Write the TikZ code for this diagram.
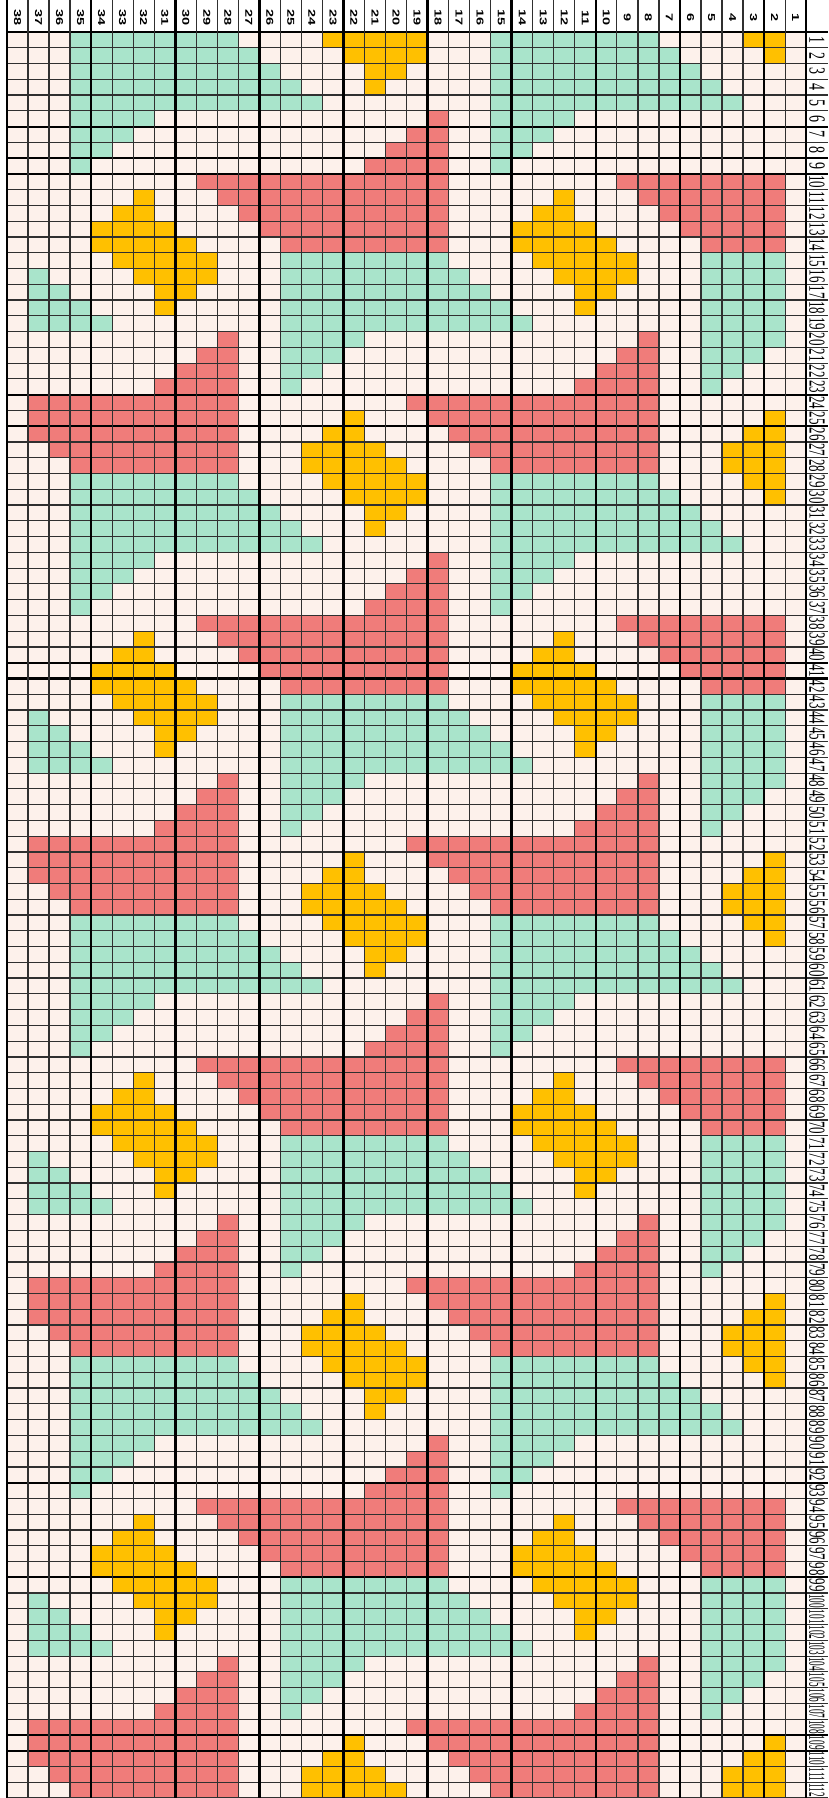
\documentclass[tikz,border=0pt]{standalone}
\usepackage{fontspec}
\usepackage{graphicx}
\setmainfont{Liberation Serif}
\newfontfamily\hdrfont{Liberation Sans}
\definecolor{cl}{HTML}{FDF1EB}
\definecolor{cG}{HTML}{A9E4CB}
\definecolor{cR}{HTML}{F07C7A}
\definecolor{cY}{HTML}{FFC000}
\definecolor{gridc}{HTML}{303030}
\newcount\pcnt
\def\pcellx#1{\if#1o\else
  \foreach \k in {0,1,2,3}{%
    \pgfmathsetmacro\yy{32+(\prownum-1+28*\k)*15.768}%
    \fill[c#1] ({7+(\the\pcnt+1)*21.03},\yy) rectangle ++(21.03,15.768);%
    \ifnum\pcnt<16 \fill[c#1] ({7+(\the\pcnt+21)*21.03},\yy) rectangle ++(21.03,15.768);\fi
  }\fi}
\def\prowscan#1{\ifx#1\relax\else\pcellx{#1}\advance\pcnt by 1 \expandafter\prowscan\fi}
\def\prow#1#2{\def\prownum{#1}\pcnt=0 \prowscan#2\relax}
\tikzset{
  thin grid/.style={draw=gridc, line width=1.2pt},
  mid grid/.style={draw=black, line width=2.2pt},
  thick grid/.style={draw=black, line width=2.6pt},
  hdr/.style={rotate=-90, inner sep=0pt, font=\hdrfont\bfseries\fontsize{10}{10}\selectfont},
  rlab/.style={rotate=-90, inner sep=0pt, font=\fontsize{10}{10}\selectfont}
}
\begin{document}
\begin{tikzpicture}[x=1pt,y=-1pt]
\useasboundingbox (0,0) rectangle (828,1798);
\fill[white] (0,0) rectangle (828,1798);
\fill[cl] (7,32) rectangle (806.14,1798);
% pattern: each row lists columns 37 down to 18; repeats every 20 columns and 28 rows
\prow{1}{oo GGGGGGGG oooo YYYYY o}
\prow{2}{oo GGGGGGGGG oooo YYYY o}
\prow{3}{oo GGGGGGGGGG oooo YY oo}
\prow{4}{oo GGGGGGGGGGG ooo Y ooo}
\prow{5}{oo GGGGGGGGGGGG oooooo}
\prow{6}{oo GGGG ooooooooooooo R}
\prow{7}{oo GGG ooooooooooooo RR}
\prow{8}{oo GG ooooooooooooo RRR}
\prow{9}{oo G ooooooooooooo RRRR}
\prow{10}{oooooooo RRRRRRRRRRRR}
\prow{11}{ooooo Y ooo RRRRRRRRRRR}
\prow{12}{oooo YY oooo RRRRRRRRRR}
\prow{13}{ooo YYYY oooo RRRRRRRRR}
\prow{14}{ooo YYYYY oooo RRRRRRRR}
\prow{15}{oooo YYYYY ooo GGGGGGGG}
\prow{16}{G oooo YYYY ooo GGGGGGGG}
\prow{17}{GG oooo YY oooo GGGGGGGG}
\prow{18}{GGG ooo Y ooooo GGGGGGGG}
\prow{19}{GGGG oooooooo GGGGGGGG}
\prow{20}{ooooooooo R oo GGGG oooo}
\prow{21}{oooooooo RR oo GGG ooooo}
\prow{22}{ooooooo RRR oo GG oooooo}
\prow{23}{oooooo RRRR oo G ooooooo}
\prow{24}{RRRRRRRRRR oooooooo RR}
\prow{25}{RRRRRRRRRR ooooo Y ooo R}
\prow{26}{RRRRRRRRRR oooo YY oooo}
\prow{27}{o RRRRRRRRR ooo YYYY ooo}
\prow{28}{oo RRRRRRRR ooo YYYYY oo}
% horizontal grid lines
\foreach \k in {0,...,112}{
  \draw[thin grid] (7,{32+\k*15.768}) -- (828,{32+\k*15.768});
}
\foreach \k in {0,6,8,9,23,25,40,41,92,98,108,109}{
  \draw[mid grid] (7,{32+\k*15.768}) -- (828,{32+\k*15.768});
}
% vertical grid lines
\foreach \j in {1,2,3,5,6,7,9,10,11,13,14,15,17,18,19,21,22,23,25,26,27,29,30,31,33,34,35,37}{
  \draw[thin grid] ({7+\j*21.03},0) -- ({7+\j*21.03},1798);
}
\foreach \j in {0,4,...,36,38}{
  \draw[thick grid] ({7+\j*21.03},0) -- ({7+\j*21.03},1798);
}
% column headers
\foreach \c in {1,...,38}{
  \node[hdr] (h\c) at ({7+(38-\c)*21.03+10.5},18) {\scalebox{1.45}[1]{\c}};
}
% row labels
\foreach \r in {1,...,112}{
  \ifnum\r<10 \def\sx{1.4}\else\ifnum\r<100 \def\sx{1.3}\else\def\sx{0.92}\fi\fi
  \node[rlab] (r\r) at (817,{32+(\r-0.5)*15.768}) {\scalebox{\sx}[2.3]{\r}};
}
\end{tikzpicture}
\end{document}
